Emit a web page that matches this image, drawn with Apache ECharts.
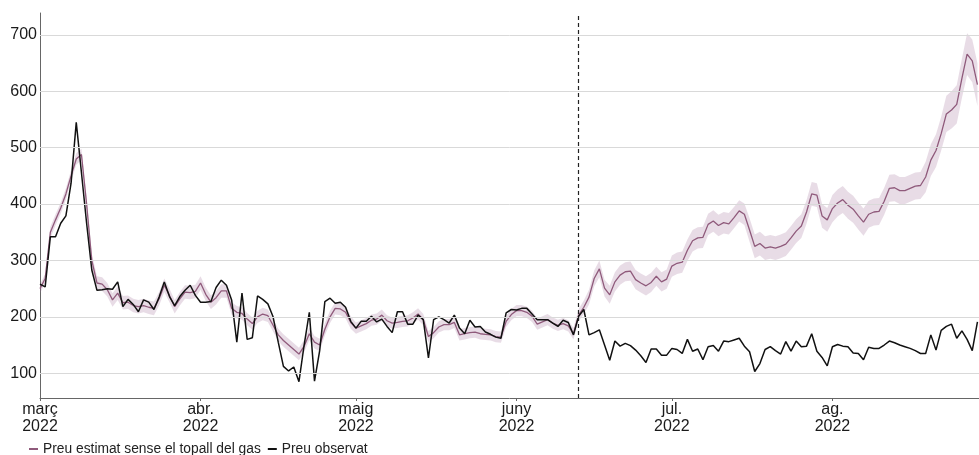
<!DOCTYPE html>
<html>
<head>
<meta charset="utf-8">
<script src="https://cdn.jsdelivr.net/npm/echarts@6/dist/echarts.min.js"></script>
<style>
html,body{margin:0;padding:0;background:#fff;}
#chart{width:979px;height:455px;}
</style>
</head>
<body>
<div id="chart"></div>
<script>
// ---- Data (daily, from 1 March 2022) ----
const startDay = '2022-03-01';
const capStartDay = '2022-06-13';

const observed = [
258,253,342,342,366,379,437,545,456,366,
283,247,248,250,249,262,218,231,222,209,
230,226,213,235,262,236,220,236,247,256,
238,226,226,227,252,265,256,230,155,242,
160,163,237,231,223,200,155,112,104,111,
85,150,208,86,140,227,233,224,226,217,
192,180,192,192,201,191,196,183,172,209,
209,187,187,203,195,127,195,200,195,189,
203,180,170,194,182,183,173,169,164,162,
207,213,212,215,215,205,195,195,195,189,
183,194,190,168,201,213,168,172,177,150,
123,157,148,153,149,141,131,119,143,143,
132,132,144,142,135,160,139,143,124,147,
149,139,157,156,159,162,148,138,103,117,
142,147,140,134,156,139,157,147,148,170,
139,128,113,147,151,148,147,136,135,124,
146,144,144,150,157,154,150,147,144,140,
135,135,168,141,176,183,187,162,175,160,
140,191
];

const estimated = [
250,268,350,372,393,418,450,480,488,400,
300,260,258,248,230,242,225,226,220,218,
220,217,215,232,256,238,218,232,244,243,
245,260,240,226,234,246,246,215,208,206,
196,188,200,205,202,185,168,158,150,142,
134,148,170,155,150,178,200,215,214,208,
190,180,184,188,194,196,203,193,189,190,
192,193,198,205,195,165,172,182,186,186,
190,168,170,172,173,170,169,168,165,164,
192,204,211,211,208,201,187,191,195,189,
185,188,184,170,203,217,235,268,285,251,
239,262,274,280,281,266,260,255,261,272,
262,267,290,295,297,318,335,340,341,364,
370,362,367,365,376,388,382,354,325,330,
322,324,322,325,329,340,352,361,386,418,
416,379,372,392,402,408,398,391,379,368,
382,386,387,405,428,429,424,424,428,432,
433,448,478,495,525,560,567,577,623,666,
654,612
];

// half-width of the shaded uncertainty band around the estimate
const bandHalfWidth = [
8,8,10,10,10,10,10,10,10,12,
12,12,12,12,12,12,12,12,12,12,
12,12,12,12,12,12,12,12,12,12,
12,12,12,12,12,12,12,11,11,11,
11,11,11,11,11,11,11,11,11,11,
11,11,11,11,11,11,11,11,11,11,
11,10,10,10,10,10,10,10,10,10,
10,10,10,10,10,10,10,10,10,10,
10,10,10,10,10,10,10,10,10,10,
10,10,10,10,10,10,10,10,10,10,
10,10,10,10,11,12,13,14,15,15,
16,17,17,17,17,17,17,17,17,17,
17,17,19,19,19,19,19,19,19,19,
19,19,19,19,19,19,19,21,21,21,
21,21,21,21,21,21,21,21,21,21,
21,21,21,24,24,24,24,24,24,24,
24,24,24,24,24,24,24,24,24,24,
24,27,28,29,30,32,33,34,35,37,
38,38
];

const monthStarts = ['2022-03-01','2022-04-01','2022-05-01','2022-06-01','2022-07-01','2022-08-01'];
const monthLabels = ['març\n2022','abr.\n2022','maig\n2022','juny\n2022','jul.\n2022','ag.\n2022'];
const yTicks = [100,200,300,400,500,600,700];

const seriesNames = ['Preu estimat sense el topall del gas', 'Preu observat'];

// ---- Build ----
const DAY = 86400000;
const toTs = s => { const p = s.split('-').map(Number); return Date.UTC(p[0], p[1]-1, p[2]); };
const t0 = toTs(startDay);
const dates = observed.map((_, i) => t0 + i * DAY);
const monthTs = monthStarts.map(toTs);
const bandData = dates.map((t, i) => [t, estimated[i] - bandHalfWidth[i], estimated[i] + bandHalfWidth[i]]);

const FONT = '"Liberation Sans", Arial, Helvetica, sans-serif';
const chart = echarts.init(document.getElementById('chart'), null, {renderer: 'canvas'});

function renderBand(params, api) {
  if (params.dataIndex !== 0) return null;
  const upper = [], lower = [];
  for (let i = 0; i < bandData.length; i++) {
    upper.push(api.coord([bandData[i][0], bandData[i][2]]));
    lower.push(api.coord([bandData[i][0], bandData[i][1]]));
  }
  const pts = upper.concat(lower.reverse());
  return {
    type: 'polygon',
    shape: {points: pts},
    style: {fill: 'rgba(160,110,150,0.24)', stroke: 'none'},
    silent: true
  };
}

const option = {
  animation: false,
  backgroundColor: '#ffffff',
  textStyle: {fontFamily: FONT},
  grid: {left: 40, right: 0, top: 13, bottom: 57, containLabel: false},
  legend: {
    data: seriesNames,
    left: 24, top: 437,
    icon: 'rect', itemWidth: 9, itemHeight: 2, itemGap: 7,
    textStyle: {fontFamily: FONT, fontSize: 13.8, color: '#222'},
    selectedMode: false
  },
  xAxis: {
    type: 'value',
    min: t0,
    max: t0 + 181.3 * DAY,
    axisLine: {show: true, onZero: false, lineStyle: {color: '#666', width: 1}},
    axisTick: {show: true, customValues: monthTs, length: 3, lineStyle: {color: '#666'}},
    splitLine: {show: false},
    axisLabel: {
      customValues: monthTs,
      margin: 3,
      fontFamily: FONT, fontSize: 16, lineHeight: 17, color: '#1a1a1a',
      formatter: function (v) {
        const i = monthTs.indexOf(v);
        return i >= 0 ? monthLabels[i] : '';
      },
      hideOverlap: false
    }
  },
  yAxis: {
    type: 'value',
    min: 56,
    max: 739,
    axisLine: {show: true, lineStyle: {color: '#666', width: 1}},
    axisTick: {show: false, customValues: yTicks},
    axisLabel: {
      customValues: yTicks,
      margin: 3,
      fontFamily: FONT, fontSize: 16, color: '#1a1a1a'
    },
    splitLine: {show: false}
  },
  series: [
    {
      name: 'band', type: 'custom', silent: true, z: 1,
      clip: true,
      renderItem: renderBand,
      encode: {x: 0, y: [1, 2]},
      data: bandData
    },
    {
      name: 'gridlines', type: 'line', silent: true, data: [], z: 0,
      markLine: {
        silent: true, symbol: ['none','none'], label: {show: false},
        lineStyle: {color: '#d9d9d9', width: 1, type: 'solid'},
        data: yTicks.map(v => ({yAxis: v}))
      }
    },
    {
      name: seriesNames[0], type: 'line', symbol: 'none', z: 3,
      color: '#8f5a7b',
      lineStyle: {color: '#8f5a7b', width: 1.3},
      data: dates.map((t, i) => [t, estimated[i]])
    },
    {
      name: seriesNames[1], type: 'line', symbol: 'none', z: 4,
      color: '#111111',
      lineStyle: {color: '#111111', width: 1.5},
      data: dates.map((t, i) => [t, observed[i]]),
      markLine: {
        silent: true, symbol: ['none','none'], label: {show: false},
        lineStyle: {color: '#222', width: 1.2, type: [4, 3]},
        data: [{xAxis: toTs(capStartDay)}]
      }
    }
  ]
};
chart.setOption(option);
</script>
</body>
</html>
